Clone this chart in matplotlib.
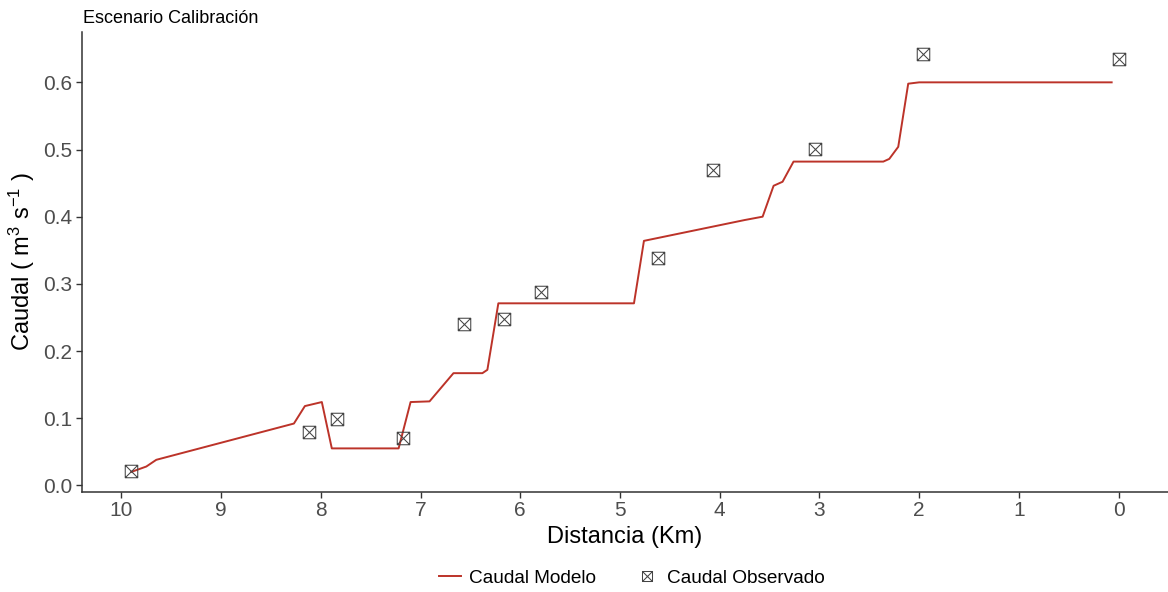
import numpy as np
import matplotlib
matplotlib.use("Agg")
import matplotlib.pyplot as plt
from matplotlib.path import Path
import matplotlib.ticker as ticker

plt.rcParams["font.family"] = ["Liberation Sans", "DejaVu Sans"]
plt.rcParams["mathtext.default"] = "regular"

# -----------------------------------------------------------------------
# Datos
# -----------------------------------------------------------------------

modelo_km = [9.90, 9.75, 9.65, 8.27, 8.16, 7.99, 7.89, 7.22, 7.10, 6.91,
             6.67, 6.38, 6.33, 6.22, 4.86, 4.76, 3.75, 3.57, 3.46, 3.37,
             3.26, 2.36, 2.30, 2.21, 2.11, 2.00, 0.07]
modelo_q = [0.020, 0.028, 0.038, 0.092, 0.118, 0.124, 0.055, 0.055, 0.124, 0.125,
            0.167, 0.167, 0.172, 0.271, 0.271, 0.364, 0.395, 0.400, 0.446, 0.452,
            0.482, 0.482, 0.486, 0.504, 0.598, 0.600, 0.600]

obs_km = [9.90, 8.12, 7.84, 7.18, 6.56, 6.16, 5.79, 4.62, 4.07, 3.04, 1.96, 0.00]
obs_q = [0.021, 0.079, 0.099, 0.070, 0.240, 0.248, 0.288, 0.339, 0.469, 0.501, 0.642, 0.635]

x_ticks = [10, 9, 8, 7, 6, 5, 4, 3, 2, 1, 0]
y_ticks = [0.0, 0.1, 0.2, 0.3, 0.4, 0.5, 0.6]

LINE_COLOR = "#BC3329"
MARK_COLOR = "#444444"
TICK_COLOR = "#4D4D4D"

# marcador cuadrado con X (como shape 7 de ggplot)
sq_x = Path(
    [(-1, -1), (1, -1), (1, 1), (-1, 1), (-1, -1),
     (-1, -1), (1, 1), (-1, 1), (1, -1)],
    [Path.MOVETO, Path.LINETO, Path.LINETO, Path.LINETO, Path.CLOSEPOLY,
     Path.MOVETO, Path.LINETO, Path.MOVETO, Path.LINETO],
)

# -----------------------------------------------------------------------
# Figura
# -----------------------------------------------------------------------

fig = plt.figure(figsize=(11.68, 5.92), dpi=100)
ax = fig.add_axes([0.0702, 0.1694, 0.9298, 0.7766])

ax.plot(modelo_km, modelo_q, color=LINE_COLOR, linewidth=1.4,
        label="Caudal Modelo", zorder=2)
ax.plot(obs_km, obs_q, linestyle="none", marker=sq_x, markersize=9,
        markerfacecolor="none", markeredgecolor=MARK_COLOR,
        markeredgewidth=0.75, label="Caudal Observado", zorder=3)

ax.set_xlim(10.395, -0.495)
ax.set_ylim(-0.0095, 0.675)
ax.set_xticks(x_ticks)
ax.set_yticks(y_ticks)
ax.yaxis.set_major_formatter(ticker.FormatStrFormatter("%.1f"))

for side in ["top", "right"]:
    ax.spines[side].set_visible(False)
for side in ["left", "bottom"]:
    ax.spines[side].set_color("#333333")
    ax.spines[side].set_linewidth(1.1)

ax.tick_params(axis="both", colors="#333333", labelcolor=TICK_COLOR,
               labelsize=15, length=4, width=1.0, pad=3)

ax.set_xlabel("Distancia (Km)", fontsize=17, labelpad=4)
ax.set_ylabel(r"Caudal ( m$^{3}$ s$^{-1}$ )", fontsize=17, labelpad=4)

fig.text(0.0711, 0.969, "Escenario Calibración", fontsize=13,
         ha="left", va="center")

fig.legend(loc="center", bbox_to_anchor=(0.5407, 0.0236), ncol=2,
           frameon=False, fontsize=13.7, handlelength=1.15,
           columnspacing=2.1, handletextpad=0.45, markerscale=0.8)

fig.savefig("out.png", dpi=100)
